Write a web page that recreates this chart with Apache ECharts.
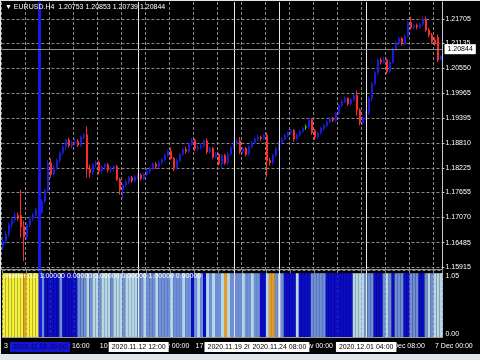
<!DOCTYPE html>
<html><head><meta charset="utf-8">
<script src="https://cdn.jsdelivr.net/npm/echarts@6/dist/echarts.min.js"></script>
<style>
html,body{margin:0;padding:0;background:#dfe6ee;width:480px;height:360px;overflow:hidden}
#c{position:absolute;left:1px;top:1px;width:479px;height:353px;background:#000}
</style></head><body><div id="c"></div>
<script>
const symbolName = 'EURUSD.H4';
const days = ['2020.11.03','2020.11.04','2020.11.05','2020.11.06',
  '2020.11.09','2020.11.10','2020.11.11','2020.11.12','2020.11.13',
  '2020.11.16','2020.11.17','2020.11.18','2020.11.19','2020.11.20',
  '2020.11.23','2020.11.24','2020.11.25','2020.11.26','2020.11.27',
  '2020.11.30','2020.12.01','2020.12.02','2020.12.03','2020.12.04','2020.12.07'];
const hours = ['00:00','04:00','08:00','12:00','16:00','20:00'];
const monthNames = ['Jan','Feb','Mar','Apr','May','Jun','Jul','Aug','Sep','Oct','Nov','Dec'];

const opens = [1.1640,1.1652,1.1668,1.1690,1.1702,1.1712,1.1712,1.1686,1.1662,1.1690,
1.1705,1.1712,1.1726,1.1718,1.1745,1.1770,1.1835,1.1808,1.1822,1.1840,
1.1858,1.1872,1.1888,1.1875,1.1882,1.1885,1.1876,1.1895,1.1900,1.1820,
1.1812,1.1830,1.1836,1.1815,1.1825,1.1830,1.1818,1.1822,1.1826,1.1796,
1.1772,1.1783,1.1790,1.1800,1.1793,1.1802,1.1806,1.1798,1.1808,1.1815,
1.1822,1.1832,1.1826,1.1835,1.1842,1.1852,1.1862,1.1845,1.1822,1.1840,
1.1855,1.1866,1.1862,1.1878,1.1888,1.1868,1.1870,1.1875,1.1886,1.1860,
1.1868,1.1848,1.1855,1.1832,1.1852,1.1835,1.1855,1.1870,1.1880,1.1886,
1.1860,1.1868,1.1855,1.1872,1.1882,1.1890,1.1895,1.1892,1.1899,1.1840,
1.1835,1.1852,1.1868,1.1882,1.1890,1.1898,1.1905,1.1910,1.1890,1.1900,
1.1908,1.1918,1.1918,1.1935,1.1910,1.1895,1.1905,1.1915,1.1922,1.1930,
1.1938,1.1934,1.1950,1.1968,1.1978,1.1985,1.1972,1.1982,1.1992,1.1958,
1.1928,1.1940,1.1950,1.1985,1.2020,1.2045,1.2075,1.2070,1.2075,1.2047,
1.2070,1.2100,1.2115,1.2125,1.2112,1.2130,1.2162,1.2150,1.2155,1.2152,
1.2158,1.2170,1.2145,1.2133,1.2122,1.2128,1.20753];
const highs = [1.1662,1.1675,1.1695,1.1708,1.1720,1.1718,1.1772,1.1700,1.1695,1.1710,
1.1718,1.1730,1.1732,1.1750,1.1775,1.1842,1.1845,1.1828,1.1845,1.1862,
1.1876,1.1890,1.1893,1.1886,1.1892,1.1890,1.1898,1.1905,1.1920,1.1830,
1.1834,1.1840,1.1840,1.1828,1.1834,1.1834,1.1826,1.1830,1.1830,1.1800,
1.1786,1.1795,1.1804,1.1804,1.1806,1.1810,1.1810,1.1812,1.1820,1.1826,
1.1836,1.1836,1.1840,1.1846,1.1856,1.1866,1.1870,1.1848,1.1844,1.1858,
1.1870,1.1872,1.1882,1.1893,1.1892,1.1876,1.1880,1.1890,1.1892,1.1872,
1.1872,1.1860,1.1858,1.1856,1.1856,1.1860,1.1874,1.1885,1.1890,1.1895,
1.1872,1.1872,1.1876,1.1886,1.1894,1.1900,1.1898,1.1902,1.1906,1.1846,
1.1856,1.1872,1.1886,1.1894,1.1902,1.1908,1.1914,1.1914,1.1904,1.1912,
1.1920,1.1924,1.1938,1.1938,1.1914,1.1908,1.1918,1.1926,1.1934,1.1942,
1.1942,1.1954,1.1972,1.1982,1.1990,1.1988,1.1986,1.1996,1.2004,1.1962,
1.1944,1.1955,1.1990,1.2024,1.2050,1.2078,1.2080,1.2082,1.2078,1.2074,
1.2104,1.2120,1.2130,1.2128,1.2134,1.2166,1.2176,1.2160,1.2160,1.2162,
1.2177,1.2176,1.2150,1.2138,1.2128,1.2134,1.20853];
const lows = [1.1632,1.1645,1.1662,1.1682,1.1695,1.1700,1.1660,1.1605,1.1655,1.1684,
1.1698,1.1706,1.1712,1.1715,1.1740,1.1765,1.1800,1.1802,1.1818,1.1835,
1.1852,1.1866,1.1870,1.1868,1.1876,1.1872,1.1872,1.1889,1.1800,1.1800,
1.1806,1.1824,1.1808,1.1810,1.1818,1.1812,1.1812,1.1816,1.1792,1.1760,
1.1752,1.1778,1.1784,1.1788,1.1788,1.1796,1.1794,1.1794,1.1804,1.1810,
1.1818,1.1820,1.1822,1.1830,1.1838,1.1848,1.1842,1.1815,1.1818,1.1836,
1.1850,1.1856,1.1858,1.1874,1.1862,1.1862,1.1866,1.1870,1.1855,1.1856,
1.1844,1.1844,1.1828,1.1822,1.1830,1.1830,1.1850,1.1866,1.1876,1.1855,
1.1856,1.1850,1.1850,1.1868,1.1878,1.1885,1.1886,1.1888,1.1802,1.1828,
1.1830,1.1848,1.1864,1.1878,1.1886,1.1894,1.1900,1.1884,1.1886,1.1896,
1.1904,1.1912,1.1914,1.1900,1.1888,1.1890,1.1900,1.1910,1.1918,1.1926,
1.1930,1.1930,1.1946,1.1964,1.1974,1.1968,1.1968,1.1978,1.1945,1.1922,
1.1924,1.1935,1.1946,1.1980,1.2015,1.2040,1.2064,1.2066,1.2042,1.2044,
1.2066,1.2096,1.2110,1.2108,1.2108,1.2126,1.2146,1.2146,1.2146,1.2148,
1.2154,1.2140,1.2128,1.2112,1.2108,1.2070,1.20739];
const closes = [1.1652,1.1668,1.1690,1.1702,1.1712,1.1705,1.1685,1.1662,1.1690,1.1705,
1.1712,1.1726,1.1718,1.1745,1.1770,1.1835,1.1808,1.1822,1.1840,1.1858,
1.1872,1.1888,1.1875,1.1882,1.1885,1.1876,1.1895,1.1900,1.1820,1.1812,
1.1830,1.1836,1.1815,1.1825,1.1830,1.1818,1.1822,1.1826,1.1796,1.1772,
1.1783,1.1790,1.1800,1.1793,1.1802,1.1806,1.1798,1.1808,1.1815,1.1822,
1.1832,1.1826,1.1835,1.1842,1.1852,1.1862,1.1845,1.1822,1.1840,1.1855,
1.1866,1.1862,1.1878,1.1888,1.1868,1.1870,1.1875,1.1886,1.1860,1.1868,
1.1848,1.1855,1.1832,1.1852,1.1835,1.1855,1.1870,1.1880,1.1886,1.1860,
1.1868,1.1855,1.1872,1.1882,1.1890,1.1895,1.1892,1.1899,1.1840,1.1835,
1.1852,1.1868,1.1882,1.1890,1.1898,1.1905,1.1910,1.1890,1.1900,1.1908,
1.1915,1.1918,1.1935,1.1905,1.1895,1.1905,1.1915,1.1922,1.1930,1.1938,
1.1934,1.1950,1.1968,1.1978,1.1985,1.1972,1.1982,1.1992,1.1958,1.1928,
1.1940,1.1950,1.1985,1.2020,1.2045,1.2075,1.2070,1.2075,1.2047,1.2070,
1.2100,1.2115,1.2125,1.2112,1.2130,1.2162,1.2150,1.2155,1.2152,1.2158,
1.2170,1.2145,1.2133,1.2117,1.2112,1.2075,1.20844];

// indicator state per bar: Y yellow, O orange, D dark blue, S steel blue, P pale blue
const histState = ['YYYYYYY','O','YYYY','SS','DDDDD','S','DDDDD','SSS',
  'PSPPSPPPSPPPSPPPP','SSPSSSPSSSSPSSSPSS','D','SPS','D','PSPS','S','P','O','P','SSS',
  'SPSSPSS','DD','P','OO','S','PS','DDDD','P','DDDD','SSSSS','DDDDDDDDD','PPPP','S','SS',
  'DDD','SPS','D','SSS','DD','SSS','DD','SPSPPP'].join('').split('');

const priceTicks = [1.15915,1.16485,1.17070,1.17655,1.18225,1.18810,1.19395,1.19965,1.20550,1.21135,1.21705];
const histTicks = [0, 1.05];
const markerTimes = ['2020.11.12 12:00','2020.11.19 20:00','2020.11.24 08:00','2020.12.01 04:00'];
const selectedTime = '2020.11.05 00:00';
const indicatorLabel = 'Hunter 0.1 1.00000 0.00000 0.00000 0.00000 1.00000 0.00000';

const cats = [];
days.forEach(d => hours.forEach(h => { if (cats.length < closes.length) cats.push(d + ' ' + h); }));
const last = closes.length - 1;

function mtLabel(v, i) {
  const parts = v.split(' ');
  const ymd = parts[0].split('.');
  const day = String(+ymd[2]) + ' ' + monthNames[+ymd[1] - 1];
  return i === 0 ? day + ' ' + ymd[0] : day + ' ' + parts[1];
}

const FONT = 'Liberation Sans';
const green = '#22dd22';
const candles = closes.map((c, i) => {
  const v = [opens[i], c, lows[i], highs[i]];
  return opens[i] === c ? { value: v, itemStyle: { color: green, color0: green, borderColor: green, borderColor0: green } } : v;
});
const histColors = { Y: '#f6f03a', O: '#e29c2a', D: '#0c0cc6', S: '#6e8ed8', P: '#b6d6e6' };
const histData = histState.map(s => ({ value: 1, itemStyle: { color: histColors[s] } }));

const vLines = markerTimes.map(t => ({ xAxis: cats.indexOf(t), lineStyle: { color: '#e8e8e8', width: 1, type: 'solid' } }))
  .concat([{ xAxis: cats.indexOf(selectedTime), lineStyle: { color: '#1a1ae6', width: 3, type: 'solid' } }]);

const gridL = 0.5, gridR = 37.5;
const chart = echarts.init(document.getElementById('c'), null, { renderer: 'canvas' });
chart.setOption({
  animation: false,
  backgroundColor: '#000',
  textStyle: { fontFamily: FONT },
  title: [
    { text: '\u25BC ' + symbolName + '  ' + [opens[last], highs[last], lows[last], closes[last]].map(v => v.toFixed(5)).join(' '),
      left: 4, top: 3, padding: 0, textStyle: { color: '#ffffff', fontSize: 7, fontWeight: 'normal', fontFamily: FONT } },
    { text: indicatorLabel, left: 4, top: 272, padding: 0,
      textStyle: { color: '#ffffff', fontSize: 7, fontWeight: 'normal', fontFamily: FONT } }
  ],
  grid: [
    { left: gridL, right: gridR, top: 1, height: 267 },
    { left: gridL, right: gridR, top: 269, height: 67 }
  ],
  xAxis: [
    { gridIndex: 0, type: 'category', data: cats, boundaryGap: true, position: 'bottom',
      axisLine: { show: true, lineStyle: { color: '#9a9a9a', width: 1 } },
      axisTick: { show: false }, axisLabel: { show: false },
      splitLine: { show: true, interval: 7, lineStyle: { color: '#8a8a8a', width: 1, type: [3, 2] } } },
    { gridIndex: 1, type: 'category', data: cats, boundaryGap: true, position: 'bottom', z: 1,
      axisLine: { show: true, lineStyle: { color: '#9a9a9a', width: 1 } },
      axisTick: { show: false },
      axisLabel: { interval: 15, align: 'left', color: '#ffffff', fontSize: 7, margin: 6, fontFamily: FONT,
        formatter: (v, i) => mtLabel(v, i) },
      splitLine: { show: true, interval: 7, lineStyle: { color: '#8a8a8a', width: 1, type: [3, 2] } } },
    { gridIndex: 1, type: 'category', data: cats, boundaryGap: true, position: 'bottom', offset: 0, z: 5,
      axisLine: { show: false }, axisTick: { show: false }, splitLine: { show: false },
      axisLabel: { margin: 5, fontSize: 7, fontFamily: FONT,
        interval: (i, v) => markerTimes.indexOf(v) >= 0 || v === selectedTime,
        formatter: v => v === selectedTime ? '{sel|' + v + '}' : '{box|' + v + '}',
        rich: {
          box: { backgroundColor: '#ffffff', color: '#000000', fontSize: 7, fontFamily: FONT, padding: [2, 3, 1, 3] },
          sel: { backgroundColor: '#1414d2', color: '#05056a', fontSize: 7, fontFamily: FONT, padding: [2, 3, 1, 3] }
        } } }
  ],
  yAxis: [
    { gridIndex: 0, type: 'value', position: 'right', min: 1.15868, max: 1.22102, scale: true,
      axisLine: { show: true, lineStyle: { color: '#c8c8c8', width: 1 } },
      axisTick: { show: true, length: 2, customValues: priceTicks, lineStyle: { color: '#c8c8c8' } },
      axisLabel: { customValues: priceTicks, formatter: v => v.toFixed(5), color: '#ffffff', fontSize: 7, margin: 3, fontFamily: FONT },
      splitLine: { show: true, lineStyle: { color: '#8a8a8a', width: 1, type: [3, 2] } } },
    { gridIndex: 1, type: 'value', position: 'right', min: 0, max: 1.05,
      axisLine: { show: true, lineStyle: { color: '#c8c8c8', width: 1 } },
      axisTick: { show: false, customValues: histTicks },
      axisLabel: { customValues: histTicks, color: '#ffffff', fontSize: 7, margin: 3, fontFamily: FONT,
        formatter: v => v > 0 ? '{t|' + v.toFixed(2) + '}' : '{b|' + v.toFixed(2) + '}',
        rich: { t: { padding: [12, 0, 0, 0], fontSize: 7, color: '#fff' }, b: { padding: [0, 0, 6, 0], fontSize: 7, color: '#fff' } } },
      splitLine: { show: true, lineStyle: { color: '#8a8a8a', width: 1, type: [3, 2] } } }
  ],
  series: [
    { type: 'candlestick', xAxisIndex: 0, yAxisIndex: 0, data: candles, barWidth: 2.4,
      itemStyle: { color: '#1a1ad8', color0: '#ffcccc', borderColor: '#1a1ad8', borderColor0: '#ff2a2a', borderWidth: 1 },
      markLine: { silent: true, symbol: ['none', 'none'], animation: false,
        data: vLines.concat([{ yAxis: closes[last], lineStyle: { color: '#8c8c8c', width: 1, type: 'solid' },
          label: { show: true, position: 'end', distance: 2, formatter: closes[last].toFixed(5),
            backgroundColor: '#ffffff', color: '#000000', fontSize: 7, fontFamily: FONT, padding: [2, 3, 1, 3] } }]),
        label: { show: false } } },
    { type: 'bar', xAxisIndex: 1, yAxisIndex: 1, data: histData, barCategoryGap: '0%',
      markLine: { silent: true, symbol: ['none', 'none'], animation: false, label: { show: false }, data: vLines } }
  ]
});
</script></body></html>
